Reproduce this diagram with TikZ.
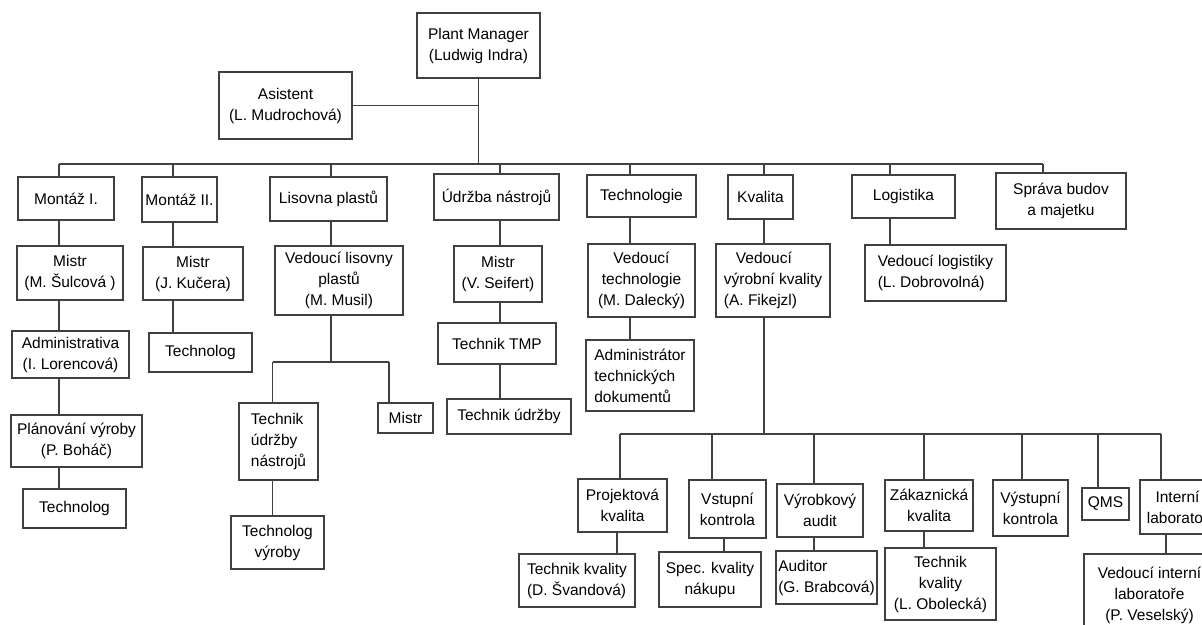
\documentclass[tikz,border=0pt]{standalone}
\usepackage{fontspec}
\setmainfont{Liberation Sans}
\begin{document}
\begin{tikzpicture}[x=1pt,y=-1pt,
  line/.style={draw=black!75, line width=1.1pt},
  ob/.style={draw=black!75, line width=1.1pt, fill=white, rectangle,
    inner sep=0pt, align=center, text=black,
    font=\fontsize{15.5}{21}\selectfont}]
% box given by its corners (left, top, right, bottom)
\newcommand\orgbox[7][]{\node[ob,#1,minimum width={(#5-#3)*1pt},
  minimum height={(#6-#4)*1pt}] (#2) at ({(#3+#5)/2},{(#4+#6)/2}) {#7};}
\useasboundingbox (0,0) rectangle (1202,624);
\clip (0,0) rectangle (1202,624);

% top level
\orgbox{pm}{417}{13}{540}{78}{Plant Manager\\(Ludwig Indra)}
\orgbox{asist}{219}{72}{352}{139}{Asistent\\(L. Mudrochová)}

% departments
\orgbox{m1}{18}{177}{114}{220}{Montáž I.}
\orgbox{m2}{142}{177}{217}{222}{Montáž II.}
\orgbox{lis}{270}{177}{387}{221}{Lisovna plastů}
\orgbox{udr}{434}{174}{559}{220}{Údržba nástrojů}
\orgbox{tech}{587}{175}{696}{217}{Technologie}
\orgbox{kval}{728}{175}{793}{219}{Kvalita}
\orgbox{log}{852}{175}{955}{218}{Logistika}
\orgbox{spr}{996}{173}{1126}{229}{Správa budov\\a majetku}

% heads of departments
\orgbox{mistr1}{17}{246}{123}{300}{Mistr\\(M. Šulcová )}
\orgbox{mistr2}{143}{247}{243}{300}{Mistr\\(J. Kučera)}
\orgbox{vedlis}{275}{246}{403}{315}{Vedoucí lisovny\\plastů\\(M. Musil)}
\orgbox{mistr3}{454}{246}{542}{302}{Mistr\\(V. Seifert)}
\orgbox{vedtech}{588}{244}{695}{317}{Vedoucí\\technologie\\(M. Dalecký)}
\orgbox[align=left]{vedkval}{716}{244}{830}{317}{\hspace*{12pt}Vedoucí\\výrobní kvality\\(A. Fikejzl)}
\orgbox[align=left]{vedlog}{865}{245}{1006}{301}{Vedoucí logistiky\\(L. Dobrovolná)}

% further staff
\orgbox{adm}{12}{331}{129}{378}{Administrativa\\(I. Lorencová)}
\orgbox{plan}{11}{415}{142}{467}{Plánování výroby\\(P. Boháč)}
\orgbox{tlA}{23}{489}{126}{528}{Technolog}
\orgbox{tlB}{149}{333}{252}{372}{Technolog}
\orgbox[align=left]{tun}{239}{403}{318}{480}{Technik\\údržby\\nástrojů}
\orgbox{mistr4}{378}{403}{433}{433}{Mistr}
\orgbox{tvyr}{231}{516}{324}{569}{Technolog\\výroby}
\orgbox{tmp}{438}{323}{556}{364}{Technik TMP}
\orgbox{tudr}{447}{399}{571}{434}{Technik údržby}
\orgbox[align=left]{admtd}{586}{340}{694}{411}{Administrátor\\technických\\dokumentů}

% quality sections
\orgbox{projk}{578}{479}{667}{532}{Projektová\\kvalita}
\orgbox{vstup}{689}{480}{766}{538}{Vstupní\\kontrola}
\orgbox{vyraud}{777}{484}{863}{537}{Výrobkový\\audit}
\orgbox{zak}{885}{480}{973}{531}{Zákaznická\\kvalita}
\orgbox{vyst}{993}{480}{1068}{536}{Výstupní\\kontrola}
\orgbox{qms}{1082}{488}{1129}{520}{QMS}
\orgbox{intlab}{1140}{480}{1215}{534}{Interní\\laboratoř}

\orgbox[align=left]{tkd}{519}{554}{635}{607}{Technik kvality\\(D. Švandová)}
\orgbox{spec}{659}{552}{761}{607}{Spec. kvality\\nákupu}
\orgbox[align=left]{audr}{776}{551}{877}{604}{Auditor\\(G. Brabcová)}
\orgbox{tko}{885}{548}{996}{620}{Technik\\kvality\\(L. Obolecká)}
\orgbox{vedlab}{1084}{554}{1215}{636}{Vedoucí interní\\laboratoře\\(P. Veselský)}

% main bus
\coordinate (bus) at (478,164);
\coordinate (dA) at (59,164);
\coordinate (dB) at (173,164);
\coordinate (dC) at (331,164);
\coordinate (dD) at (500,164);
\coordinate (dE) at (630,164);
\coordinate (dF) at (764,164);
\coordinate (dG) at (890,164);
\coordinate (dH) at (1043,164);

\draw[line] (pm.south) -- (pm.south |- bus);
\draw[line] (asist.east) -- (asist.east -| pm.south);
\draw[line] (dA) -- (dH);
\draw[line] (dA) -- (dA |- m1.north);
\draw[line] (dB) -- (dB |- m2.north);
\draw[line] (dC) -- (dC |- lis.north);
\draw[line] (dD) -- (dD |- udr.north);
\draw[line] (dE) -- (dE |- tech.north);
\draw[line] (dF) -- (dF |- kval.north);
\draw[line] (dG) -- (dG |- log.north);
\draw[line] (dH) -- (dH |- spr.north);

% Montáž I.
\draw[line] (dA |- m1.south) -- (dA |- mistr1.north);
\draw[line] (dA |- mistr1.south) -- (dA |- adm.north);
\draw[line] (dA |- adm.south) -- (dA |- plan.north);
\draw[line] (dA |- plan.south) -- (dA |- tlA.north);
% Montáž II.
\draw[line] (dB |- m2.south) -- (dB |- mistr2.north);
\draw[line] (dB |- mistr2.south) -- (dB |- tlB.north);
% Lisovna plastů
\coordinate (lbl) at (272.5,362);
\coordinate (lbr) at (389,362);
\draw[line] (dC |- lis.south) -- (dC |- vedlis.north);
\draw[line] (dC |- vedlis.south) -- (dC |- lbl);
\draw[line] (lbl) -- (lbr);
\draw[line] (lbl) -- (lbl |- tun.north);
\draw[line] (lbr) -- (lbr |- mistr4.north);
\draw[line] (lbl |- tun.south) -- (lbl |- tvyr.north);
% Údržba nástrojů
\draw[line] (dD |- udr.south) -- (dD |- mistr3.north);
\draw[line] (dD |- mistr3.south) -- (dD |- tmp.north);
\draw[line] (dD |- tmp.south) -- (dD |- tudr.north);
% Technologie
\draw[line] (dE |- tech.south) -- (dE |- vedtech.north);
\draw[line] (dE |- vedtech.south) -- (dE |- admtd.north);
% Logistika
\draw[line] (dG |- log.south) -- (dG |- vedlog.north);

% Kvalita
\coordinate (qA) at (620,434);
\coordinate (qB) at (712,434);
\coordinate (qC) at (814,434);
\coordinate (qD) at (924,434);
\coordinate (qE) at (1022,434);
\coordinate (qF) at (1098,434);
\coordinate (qG) at (1161,434);
\coordinate (kA) at (617,540);
\coordinate (kB) at (724,540);
\coordinate (kG) at (1166,540);
\draw[line] (dF |- kval.south) -- (dF |- vedkval.north);
\draw[line] (dF |- vedkval.south) -- (dF |- qA);
\draw[line] (qA) -- (qG);
\draw[line] (qA) -- (qA |- projk.north);
\draw[line] (qB) -- (qB |- vstup.north);
\draw[line] (qC) -- (qC |- vyraud.north);
\draw[line] (qD) -- (qD |- zak.north);
\draw[line] (qE) -- (qE |- vyst.north);
\draw[line] (qF) -- (qF |- qms.north);
\draw[line] (qG) -- (qG |- intlab.north);
\draw[line] (kA |- projk.south) -- (kA |- tkd.north);
\draw[line] (kB |- vstup.south) -- (kB |- spec.north);
\draw[line] (qC |- vyraud.south) -- (qC |- audr.north);
\draw[line] (qD |- zak.south) -- (qD |- tko.north);
\draw[line] (kG |- intlab.south) -- (kG |- vedlab.north);
\end{tikzpicture}
\end{document}
